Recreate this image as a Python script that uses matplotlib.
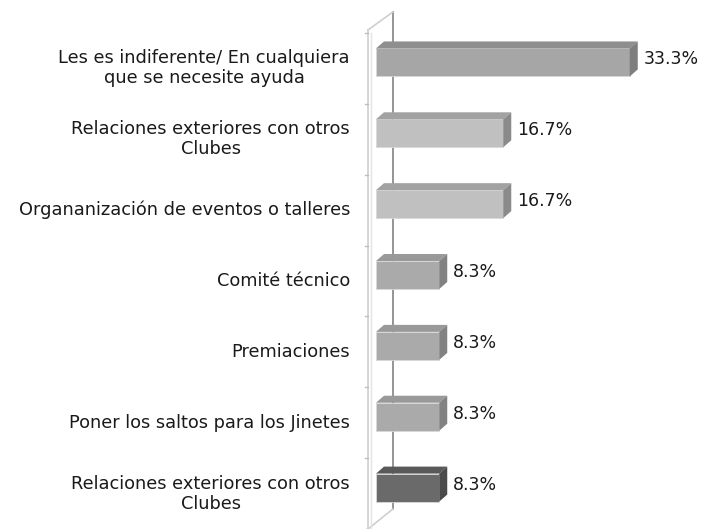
import numpy as np
import matplotlib
matplotlib.use("Agg")
import matplotlib.pyplot as plt
from matplotlib.patches import Polygon

# categories from top to bottom
categorias = [
    "Les es indiferente/ En cualquiera\nque se necesite ayuda",
    "Relaciones exteriores con otros\nClubes",
    "Organanización de eventos o talleres",
    "Comité técnico",
    "Premiaciones",
    "Poner los saltos para los Jinetes",
    "Relaciones exteriores con otros\nClubes",
]
valores = [33.3, 16.7, 16.7, 8.3, 8.3, 8.3, 8.3]
etiquetas = ["33.3%", "16.7%", "16.7%", "8.3%", "8.3%", "8.3%", "8.3%"]

# face colours (front, top, side)
frente = ["#a6a6a6", "#c0c0c0", "#c0c0c0", "#aaaaaa", "#aaaaaa", "#aaaaaa", "#6a6a6a"]
arriba = ["#8e8e8e", "#a2a2a2", "#a2a2a2", "#999999", "#999999", "#999999", "#595959"]
lado = ["#7e7e7e", "#8a8a8a", "#8a8a8a", "#828282", "#828282", "#828282", "#4a4a4a"]

fig = plt.figure(figsize=(7.06, 5.29), dpi=100)
ax = fig.add_axes([376 / 706, 0.0, 328 / 706, 496 / 529])
ax.set_xlim(0, 328 / 7.62)
ax.set_ylim(6.5, -0.5)
ax.axis("off")

px = 1 / 7.62          # one pixel in x data units
py = 1 / 70.9          # one pixel in y data units
dx, dy = 8 * px, 7 * py
alto = 28 * py
y = np.arange(len(valores)) - 6 * py

# wall: back line and diagonals
xb = -8 * px + dx * 3.1
ax.plot([xb, xb], [-0.5 - 21 * py, 6.5 - 20 * py], color="#8c8c8c", lw=1.3, clip_on=False, zorder=1)
ax.plot([-8 * px, xb], [-0.5 - 3 * py, -0.5 - 21 * py], color="#cfcfcf", lw=1.2, clip_on=False)
ax.plot([-8 * px, xb], [6.5, 6.5 - 20 * py], color="#cfcfcf", lw=1.2, clip_on=False)
ax.plot([-8 * px, -8 * px], [-0.5 - 3 * py, 6.5], color="#cfcfcf", lw=1.2, clip_on=False)
ax.plot([-5 * px, -5 * px], [-0.5, 6.5], color="#e4e4e4", lw=1.0, clip_on=False)
for t in np.arange(-0.5, 7, 1):
    ax.plot([-11 * px, -8 * px], [t, t], color="#bdbdbd", lw=1.0, clip_on=False)

ax.barh(y, valores, height=alto, color=frente, edgecolor="#d8d8d8", linewidth=0.6, zorder=3)
for yi, v, ct, cl in zip(y, valores, arriba, lado):
    top = yi - alto / 2
    bot = yi + alto / 2
    ax.add_patch(Polygon([[0, top], [dx, top - dy], [v + dx, top - dy], [v, top]],
                         closed=True, facecolor=ct, edgecolor="none", zorder=3))
    ax.add_patch(Polygon([[v, top], [v + dx, top - dy], [v + dx, bot - dy], [v, bot]],
                         closed=True, facecolor=cl, edgecolor="none", zorder=3, clip_on=False))

for yi, v, lab in zip(y, valores, etiquetas):
    ax.text(v + dx + 6 * px, yi - 3 * py, lab, ha="left", va="center",
            fontsize=12.5, color="#1a1a1a", clip_on=False)

for i, cat in enumerate(categorias):
    ax.text(-26 * px, i, cat, ha="right", va="center", multialignment="center",
            fontsize=12.8, color="#1a1a1a", linespacing=1.15, clip_on=False)

fig.savefig("out.png", dpi=100)
